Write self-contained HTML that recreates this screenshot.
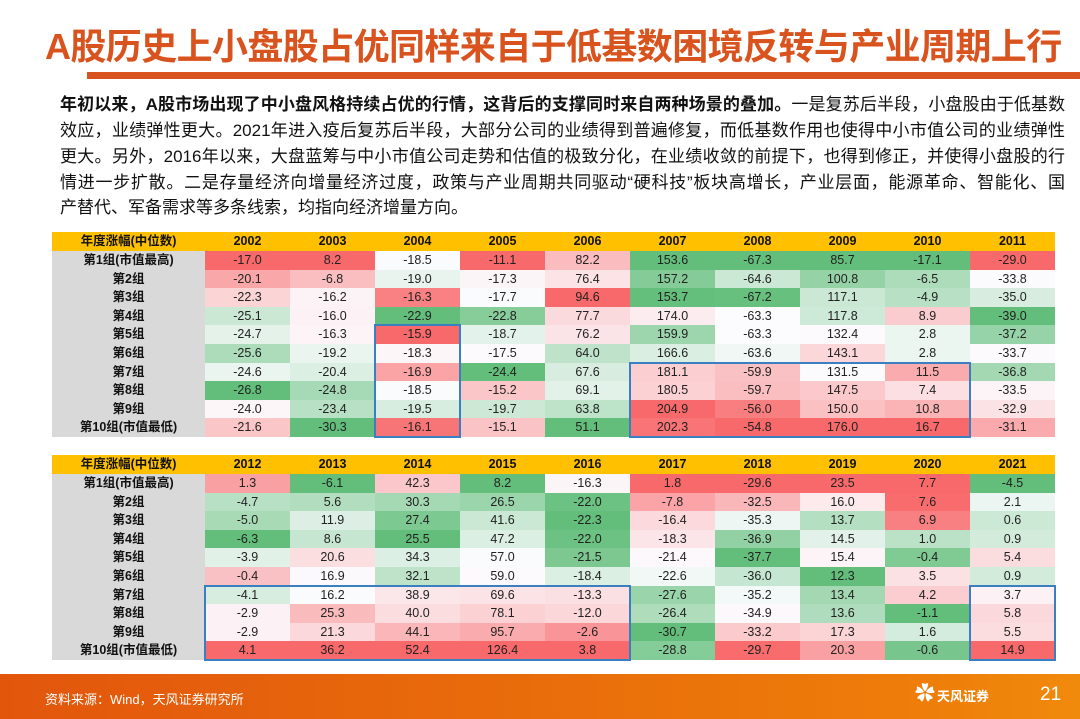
<!DOCTYPE html>
<html><head><meta charset="utf-8"><style>
body{margin:0;width:1080px;height:719px;position:relative;overflow:hidden;background:#fff;font-family:"Liberation Sans","Noto Sans CJK SC",sans-serif;}
.title{position:absolute;left:45px;top:18px;font-size:36px;font-weight:bold;color:#d9531e;letter-spacing:-0.6px;white-space:nowrap;}
.rule{position:absolute;left:87px;top:72px;width:993px;height:7px;background:#d9531e;}
.p{position:absolute;left:60px;width:1005px;font-size:17px;color:#111;white-space:nowrap;text-align:justify;text-align-last:justify;height:26px;line-height:26px;}
.c{position:absolute;text-align:center;font-size:12.5px;color:#222;}
.h{font-weight:bold;color:#111;}
.box{position:absolute;border:2px solid #3a7fc1;box-sizing:border-box;}
.foot{position:absolute;left:0;top:674px;width:1080px;height:45px;background:linear-gradient(90deg,#e2560c,#ee7d0a 85%,#f08a0c);}
</style></head><body>
<div class="title">A股历史上小盘股占优同样来自于低基数困境反转与产业周期上行</div>
<div class="rule"></div>
<div class="p" style="top:92px;letter-spacing:-0.2px"><b>年初以来，A股市场出现了中小盘风格持续占优的行情，这背后的支撑同时来自两种场景的叠加。</b>一是复苏后半段，小盘股由于低基数</div>
<div class="p" style="top:118px">效应，业绩弹性更大。2021年进入疫后复苏后半段，大部分公司的业绩得到普遍修复，而低基数作用也使得中小市值公司的业绩弹性</div>
<div class="p" style="top:144px">更大。另外，2016年以来，大盘蓝筹与中小市值公司走势和估值的极致分化，在业绩收敛的前提下，也得到修正，并使得小盘股的行</div>
<div class="p" style="top:170px">情进一步扩散。二是存量经济向增量经济过度，政策与产业周期共同驱动“硬科技”板块高增长，产业层面，能源革命、智能化、国</div>
<div class="p" style="top:195px;text-align-last:left">产替代、军备需求等多条线索，均指向经济增量方向。</div>
<div id="t"></div>
<div class="foot">
<div style="position:absolute;left:45px;top:15px;color:#fff;font-size:13px;">资料来源：Wind，天风证券研究所</div>
<div style="position:absolute;left:915px;top:10px;color:#fff;font-size:20px;line-height:20px;">✿</div>
<div style="position:absolute;left:937px;top:12px;color:#fff;font-size:13px;font-weight:bold;">天风证券</div>
<div style="position:absolute;left:1040px;top:10px;color:#fff;font-size:19px;">21</div>
</div>
<script>
var T=[
{top:232,years:[2002,2003,2004,2005,2006,2007,2008,2009,2010,2011],d:[
[-17.0,-20.1,-22.3,-25.1,-24.7,-25.6,-24.6,-26.8,-24.0,-21.6],
[8.2,-6.8,-16.2,-16.0,-16.3,-19.2,-20.4,-24.8,-23.4,-30.3],
[-18.5,-19.0,-16.3,-22.9,-15.9,-18.3,-16.9,-18.5,-19.5,-16.1],
[-11.1,-17.3,-17.7,-22.8,-18.7,-17.5,-24.4,-15.2,-19.7,-15.1],
[82.2,76.4,94.6,77.7,76.2,64.0,67.6,69.1,63.8,51.1],
[153.6,157.2,153.7,174.0,159.9,166.6,181.1,180.5,204.9,202.3],
[-67.3,-64.6,-67.2,-63.3,-63.3,-63.6,-59.9,-59.7,-56.0,-54.8],
[85.7,100.8,117.1,117.8,132.4,143.1,131.5,147.5,150.0,176.0],
[-17.1,-6.5,-4.9,8.9,2.8,2.8,11.5,7.4,10.8,16.7],
[-29.0,-33.8,-35.0,-39.0,-37.2,-33.7,-36.8,-33.5,-32.9,-31.1]],
boxes:[[2,2,4,9],[5,8,6,9]]},
{top:455,years:[2012,2013,2014,2015,2016,2017,2018,2019,2020,2021],d:[
[1.3,-4.7,-5.0,-6.3,-3.9,-0.4,-4.1,-2.9,-2.9,4.1],
[-6.1,5.6,11.9,8.6,20.6,16.9,16.2,25.3,21.3,36.2],
[42.3,30.3,27.4,25.5,34.3,32.1,38.9,40.0,44.1,52.4],
[8.2,26.5,41.6,47.2,57.0,59.0,69.6,78.1,95.7,126.4],
[-16.3,-22.0,-22.3,-22.0,-21.5,-18.4,-13.3,-12.0,-2.6,3.8],
[1.8,-7.8,-16.4,-18.3,-21.4,-22.6,-27.6,-26.4,-30.7,-28.8],
[-29.6,-32.5,-35.3,-36.9,-37.7,-36.0,-35.2,-34.9,-33.2,-29.7],
[23.5,16.0,13.7,14.5,15.4,12.3,13.4,13.6,17.3,20.3],
[7.7,7.6,6.9,1.0,-0.4,3.5,4.2,-1.1,1.6,-0.6],
[-4.5,2.1,0.6,0.9,5.4,0.9,3.7,5.8,5.5,14.9]],
boxes:[[0,4,6,9],[9,9,6,9]]}];
var labels=["第1组(市值最高)","第2组","第3组","第4组","第5组","第6组","第7组","第8组","第9组","第10组(市值最低)"];
var R=[248,105,107],G=[99,190,123],W=[252,252,255];
function mix(a,b,t){return "rgb("+a.map(function(v,i){return Math.round(v+(b[i]-v)*t)}).join(",")+")";}
var h="",HH=19,RH=18.6,X0=205,CW=85;
T.forEach(function(t){
 var y=t.top;
 h+='<div class="c h" style="left:52px;top:'+y+'px;width:1003px;height:'+HH+'px;line-height:'+HH+'px;background:#ffc000"></div>';
 h+='<div class="c h" style="left:52px;top:'+y+'px;width:153px;height:'+HH+'px;line-height:'+HH+'px">年度涨幅(中位数)</div>';
 t.years.forEach(function(yr,j){h+='<div class="c h" style="left:'+(X0+j*CW)+'px;top:'+y+'px;width:'+CW+'px;line-height:'+HH+'px">'+yr+'</div>';});
 for(var i=0;i<10;i++){var ry=y+HH+i*RH;
  h+='<div class="c h" style="left:52px;top:'+ry+'px;width:153px;height:'+(RH+0.5)+'px;line-height:'+RH+'px;background:#d9d9d9">'+labels[i]+'</div>';}
 t.d.forEach(function(col,j){
  var s=col.slice().sort(function(a,b){return a-b}),mn=s[0],mx=s[9],md=(s[4]+s[5])/2;
  col.forEach(function(v,i){var c;
   if(v>=md)c=mix(W,R,mx==md?0:(v-md)/(mx-md));else c=mix(W,G,(md-v)/(md-mn));
   var ry=y+HH+i*RH;
   h+='<div class="c" style="left:'+(X0+j*CW)+'px;top:'+ry+'px;width:'+CW+'px;height:'+(RH+0.5)+'px;line-height:'+RH+'px;background:'+c+'">'+v.toFixed(1)+'</div>';});
 });
 t.boxes.forEach(function(b){
  h+='<div class="box" style="left:'+(X0+b[0]*CW-1)+'px;top:'+(y+HH+b[2]*RH-1)+'px;width:'+((b[1]-b[0]+1)*CW+2)+'px;height:'+((b[3]-b[2]+1)*RH+2)+'px"></div>';});
});
document.getElementById("t").innerHTML=h;
</script>
</body></html>
